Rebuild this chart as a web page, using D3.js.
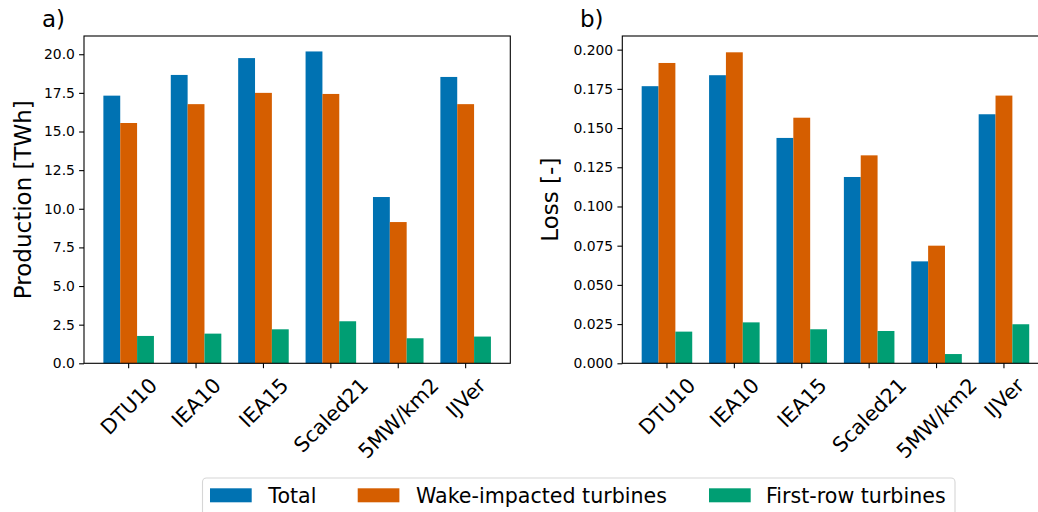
<!DOCTYPE html>
<html><head><meta charset="utf-8">
<script src="https://cdn.jsdelivr.net/npm/d3@7"></script>
<style>
html,body{margin:0;padding:0;background:#fff;}
svg{display:block;font-family:"DejaVu Sans",sans-serif;}
</style></head>
<body><svg id="c" width="1038" height="512"></svg>
<script>
const categories = ["DTU10","IEA10","IEA15","Scaled21","5MW/km2","IJVer"];
const seriesNames = ["Total","Wake-impacted turbines","First-row turbines"];
const colors = ["#0072B2","#D55E00","#009E73"];
const prodTotal = [17.32, 18.66, 19.75, 20.18, 10.76, 18.53];
const prodWake  = [15.55, 16.77, 17.50, 17.43, 9.14, 16.77];
const prodFirst = [1.77, 1.92, 2.20, 2.72, 1.62, 1.73];
const lossTotal = [0.1767, 0.1837, 0.1437, 0.1188, 0.0650, 0.1588];
const lossWake  = [0.1915, 0.1983, 0.1566, 0.1326, 0.0750, 0.1707];
const lossFirst = [0.0202, 0.0261, 0.0217, 0.0206, 0.0059, 0.0249];
const prodTicks = [0, 2.5, 5, 7.5, 10, 12.5, 15, 17.5, 20];
const lossTicks = [0, 0.025, 0.05, 0.075, 0.1, 0.125, 0.15, 0.175, 0.2];

const svg = d3.select("#c");
const TOP = 36, BOT = 363.3, W = 426.3;
const XFS = 20.6, LABFS = 23, LEGFS = 20.6;

function panel(opts){
  const {left, data, ymax, ticks, fmt, ylabel, ylabelX, tag, tagX} = opts;
  const g = svg.append("g");
  const x = d3.scaleBand().domain(categories).range([left, left+W]).paddingInner(0).paddingOuter(0.1625);
  const step = x.step();
  const xs = d3.scaleBand().domain(seriesNames).range([0, step*0.75]).padding(0);
  const y = d3.scaleLinear().domain([0, ymax]).range([BOT, TOP]);
  seriesNames.forEach((s, si) => {
    g.selectAll(null).data(categories).enter().append("rect")
      .attr("x", c => x(c) + step*0.125 + xs(s))
      .attr("width", xs.bandwidth())
      .attr("y", (c,i) => y(data[si][i]))
      .attr("height", (c,i) => BOT - y(data[si][i]))
      .attr("fill", colors[si]);
  });
  g.append("rect").attr("x", left).attr("y", TOP).attr("width", W).attr("height", BOT-TOP)
    .attr("fill","none").attr("stroke","#000").attr("stroke-width",1.1);
  const ya = d3.axisLeft(y).tickValues(ticks).tickFormat(d3.format(fmt)).tickSize(4.9).tickPadding(4.2);
  const yg = g.append("g").attr("transform", `translate(${left},0)`).call(ya);
  yg.select(".domain").remove();
  yg.selectAll("line").attr("stroke","#000").attr("stroke-width",1.1);
  yg.selectAll("text").attr("font-size","13.9px").attr("font-family","DejaVu Sans").attr("fill","#000");
  const xa = d3.axisBottom(x).tickSize(4.9).tickFormat("");
  const xg = g.append("g").attr("transform", `translate(0,${BOT})`).call(xa);
  xg.select(".domain").remove();
  xg.selectAll("line").attr("stroke","#000").attr("stroke-width",1.1);
  const lineH = XFS*1.164;
  categories.forEach(c => {
    const t = g.append("text").text(c).attr("font-size", XFS+"px")
      .attr("text-anchor","middle").attr("fill","#000");
    const w = t.node().getComputedTextLength();
    const H = (w + lineH) * Math.SQRT1_2;
    const cx = x(c) + step/2, cy = BOT + 9.8 + H/2;
    t.attr("transform", `translate(${cx},${cy}) rotate(-45)`).attr("dy", (XFS*0.36)+"px");
  });
  g.append("text").text(ylabel).attr("font-size",LABFS+"px").attr("text-anchor","middle")
    .attr("transform", `translate(${ylabelX},${(TOP+BOT)/2}) rotate(-90)`).attr("fill","#000");
  g.append("text").text(tag).attr("x", tagX).attr("y", 27).attr("font-size",LABFS+"px").attr("fill","#000");
}

panel({left:84, data:[prodTotal, prodWake, prodFirst], ymax:21.18, ticks:prodTicks, fmt:".1f",
  ylabel:"Production [TWh]", ylabelX:31, tag:"a)", tagX:42});
panel({left:622.3, data:[lossTotal, lossWake, lossFirst], ymax:0.2087, ticks:lossTicks, fmt:".3f",
  ylabel:"Loss [-]", ylabelX:558, tag:"b)", tagX:580});

const lg = svg.append("g");
lg.append("rect").attr("x",202.5).attr("y",478).attr("width",752.5).attr("height",50).attr("rx",4)
  .attr("fill","#fff").attr("stroke","#d6d6d6").attr("stroke-width",1.1);
const patchX = [210, 357.7, 709];
const textX = [268.3, 416, 766];
seriesNames.forEach((s,i) => {
  lg.append("rect").attr("x",patchX[i]).attr("y",488.3).attr("width",41.7).attr("height",14)
    .attr("fill",colors[i]);
  lg.append("text").attr("x",textX[i]).attr("y",503).text(s).attr("font-size",LEGFS+"px").attr("fill","#000");
});
</script></body></html>
